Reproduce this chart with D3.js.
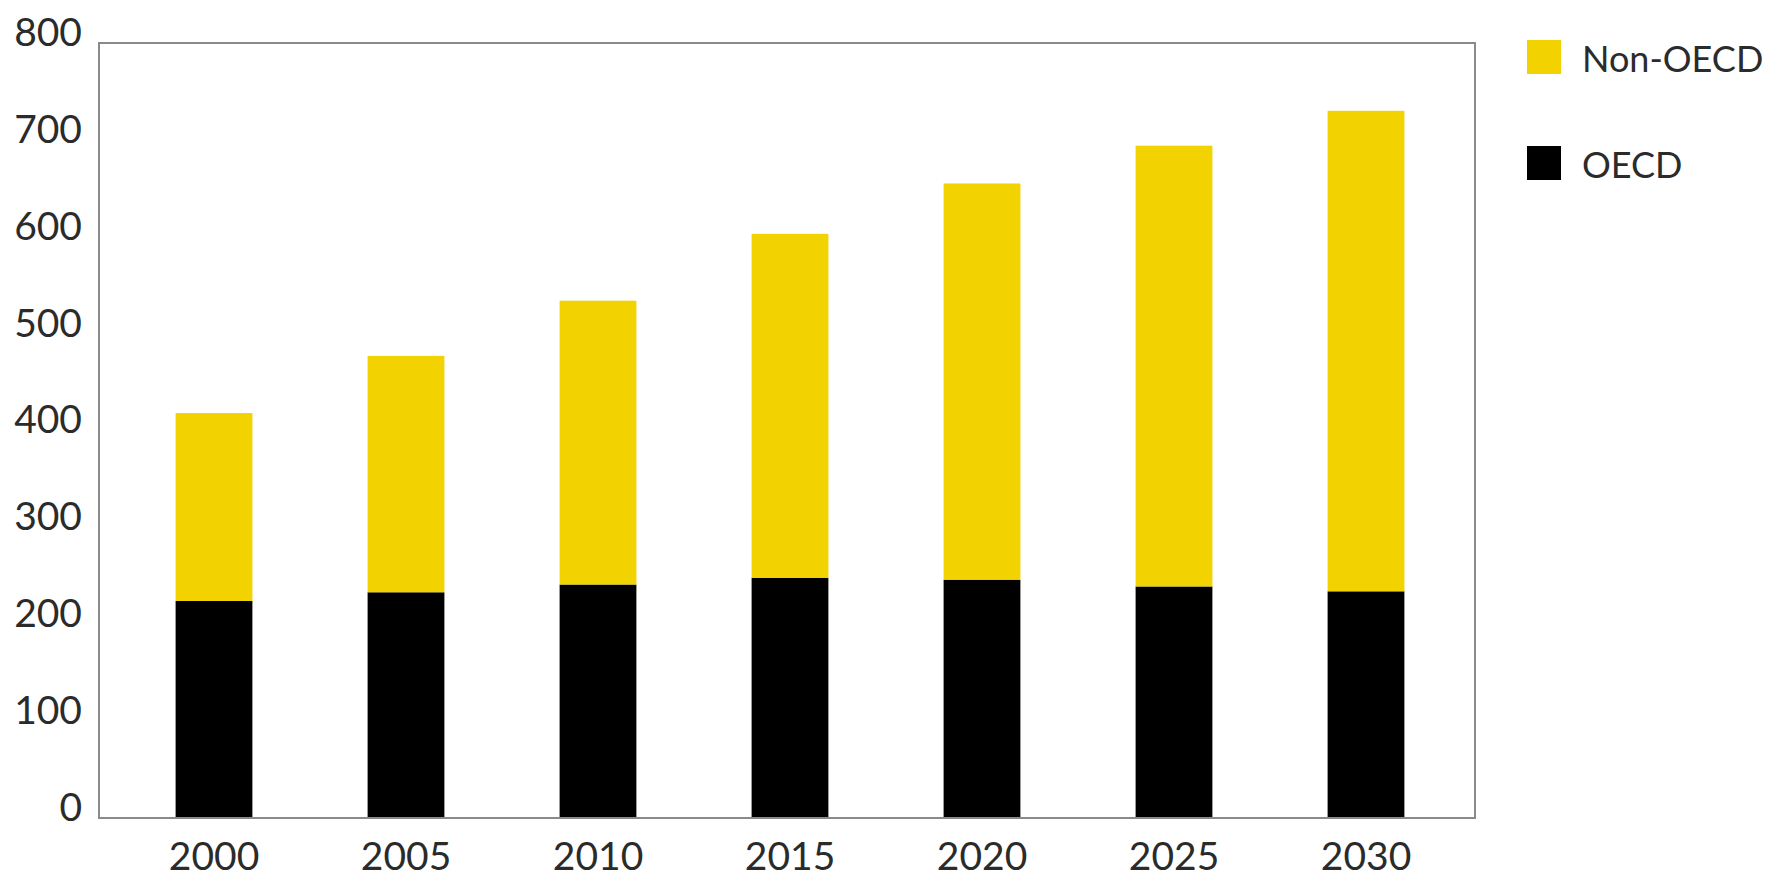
<!DOCTYPE html>
<html>
<head>
<meta charset="utf-8">
<script src="https://cdn.jsdelivr.net/npm/d3@7"></script>
<style>
  body { margin: 0; background: #fff; }
  text { font-family: Lato, "Open Sans", sans-serif; fill: #2b2b2b; }
</style>
</head>
<body>
<script>
// datos
var anios = ["2000", "2005", "2010", "2015", "2020", "2025", "2030"];
var oecd = [224, 233, 241, 248, 246, 239, 234];
var total = [418, 477, 534, 603, 655, 694, 730];
var noOecd = total.map(function(t, i){ return t - oecd[i]; });
var ticksY = [0, 100, 200, 300, 400, 500, 600, 700, 800];
var series = ["OECD", "Non-OECD"];
var colores = { "OECD": "#000000", "Non-OECD": "#f2d200" };

var ancho = 1773, alto = 878;
var caja = { left: 99, top: 43, right: 1475, bottom: 818 };

var svg = d3.select("body")
  .append("svg")
  .attr("width", ancho)
  .attr("height", alto);

var datos = anios.map(function(a, i){
  return { anio: a, "OECD": oecd[i], "Non-OECD": noOecd[i] };
});

var x = d3.scaleBand()
  .domain(anios)
  .range([118, 1462])
  .paddingInner(0.6)
  .paddingOuter(0.3);

var y = d3.scaleLinear()
  .domain([0, 800])
  .range([caja.bottom, caja.top]);

var pila = d3.stack().keys(series)(datos);

// barras apiladas
svg.append("g")
  .selectAll("g")
  .data(pila)
  .enter()
  .append("g")
  .attr("fill", function(d){ return colores[d.key]; })
  .selectAll("rect")
  .data(function(d){ return d; })
  .enter()
  .append("rect")
  .attr("x", function(d){ return x(d.data.anio); })
  .attr("y", function(d){ return y(d[1]); })
  .attr("height", function(d){ return y(d[0]) - y(d[1]); })
  .attr("width", x.bandwidth());

// marco del area de dibujo
svg.append("rect")
  .attr("x", caja.left)
  .attr("y", caja.top)
  .attr("width", caja.right - caja.left)
  .attr("height", caja.bottom - caja.top)
  .attr("fill", "none")
  .attr("stroke", "#8a8a8a")
  .attr("stroke-width", 2);

// eje y
var ejeY = svg.append("g")
  .attr("transform", "translate(" + caja.left + ",0)")
  .call(d3.axisLeft(y).tickValues(ticksY).tickSize(0).tickPadding(17));
ejeY.select(".domain").remove();
ejeY.selectAll("text")
  .attr("dy", "0.32em")
  .attr("transform", "translate(0,-10)")
  .style("font-size", "39px");

// eje x
var ejeX = svg.append("g")
  .attr("transform", "translate(0," + caja.bottom + ")")
  .call(d3.axisBottom(x).tickSize(0).tickPadding(24));
ejeX.select(".domain").remove();
ejeX.selectAll("text").style("font-size", "39px");

// leyenda
var leyenda = svg.append("g")
  .selectAll("g")
  .data(["Non-OECD", "OECD"])
  .enter()
  .append("g")
  .attr("transform", function(d, i){ return "translate(1527," + (40 + i * 106) + ")"; });

leyenda.append("rect")
  .attr("width", 34)
  .attr("height", 34)
  .attr("fill", function(d){ return colores[d]; });

leyenda.append("text")
  .attr("x", 55)
  .attr("y", 32)
  .style("font-size", "36px")
  .text(function(d){ return d; });
</script>
</body>
</html>
